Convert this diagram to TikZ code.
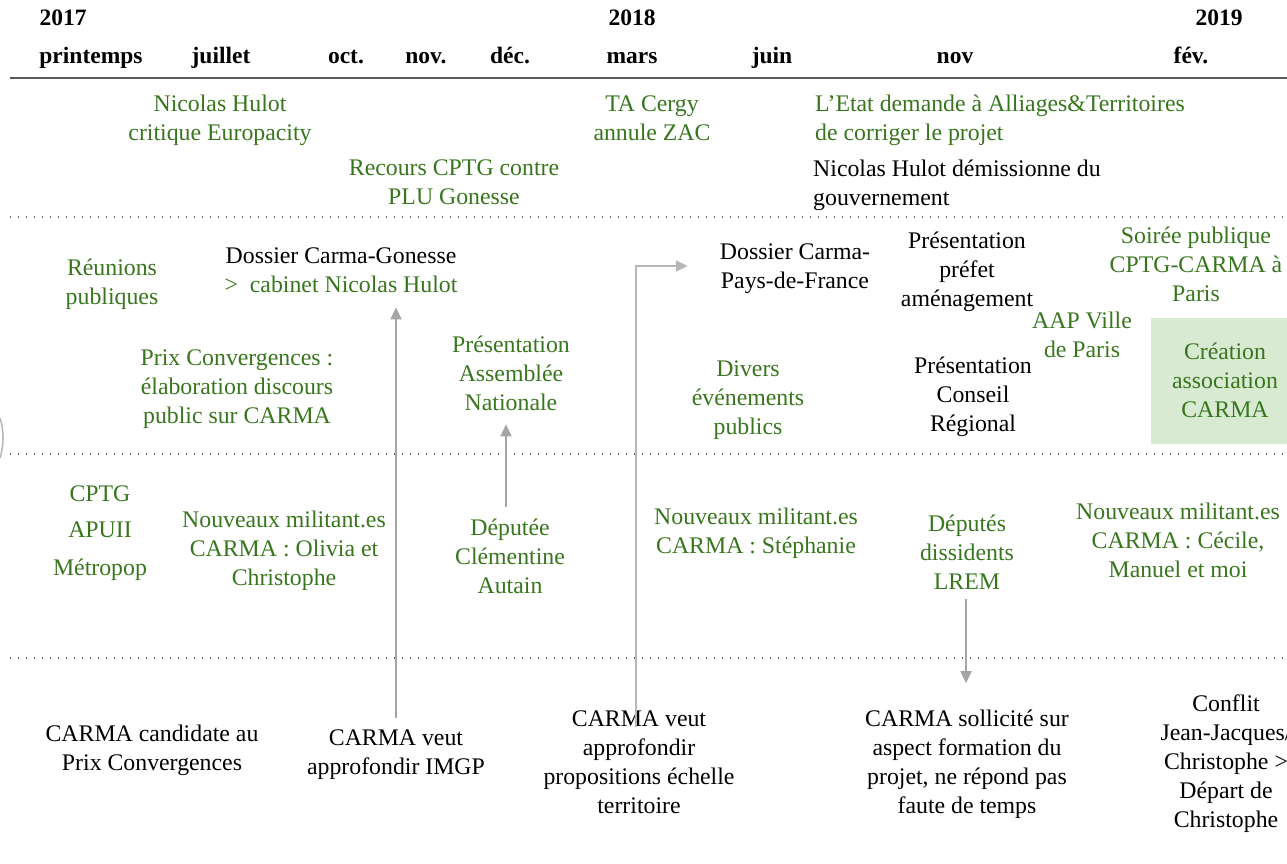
\documentclass[tikz,border=0pt]{standalone}
\usepackage{fontspec}
\setmainfont{Liberation Serif}
\usetikzlibrary{arrows.meta}
\definecolor{tgreen}{HTML}{38761D}
\definecolor{boxgreen}{HTML}{D9EAD3}
\definecolor{arrgrey}{HTML}{A5A5A5}
\definecolor{arrgreyb}{HTML}{B7B7B7}
\definecolor{linegrey}{HTML}{595959}
\definecolor{dotgrey}{HTML}{666666}
\begin{document}
\begin{tikzpicture}[x=1pt,y=-1pt,
  every node/.style={inner sep=0pt, font=\fontsize{23.8}{29}\selectfont, align=center,
    execute at begin node=\strut, execute at end node=\strut},
  hdr/.style={font=\fontsize{23.5}{29}\selectfont\bfseries, anchor=base},
  gtxt/.style={text=tgreen},
  btxt/.style={text=black},
  arr/.style={draw=arrgrey, line width=1.8pt, -{Triangle[width=11pt,length=12pt]}},
  arrb/.style={draw=arrgreyb, line width=1.8pt, -{Triangle[width=11pt,length=12pt]}},
  dotline/.style={draw=dotgrey, line width=1.4pt, dash pattern=on 1.4pt off 6.6pt},
]
\useasboundingbox (0,0) rectangle (1287,863);
% header
\node[hdr] (y17) at (63,25) {2017};
\node[hdr] (y18) at (632,25) {2018};
\node[hdr] (y19) at (1219,25) {2019};
\node[hdr] (m1) at (91,63) {printemps};
\node[hdr] (m2) at (221,63) {juillet};
\node[hdr] (m3) at (346,63) {oct.};
\node[hdr] (m4) at (426,63) {nov.};
\node[hdr] (m5) at (510,63) {déc.};
\node[hdr] (m6) at (632,63) {mars};
\node[hdr] (m7) at (772,63) {juin};
\node[hdr] (m8) at (955,63) {nov};
\node[hdr] (m9) at (1191,63) {fév.};
\draw[linegrey, line width=2.5pt] (10,78) -- (1287,78);
\draw[dotline] (10,217) -- (1287,217);
\draw[dotline] (10,454) -- (1287,454);
\draw[dotline] (10,658) -- (1287,658);
% left edge arc
\draw[gray!55, line width=1.6pt] (0,418) .. controls (4,430) and (4,446) .. (0,458);
\fill[boxgreen] (1151,318) rectangle (1287,444);
\begin{scope}[yshift=-4pt]
% row 1
\node[gtxt] (nh) at (220,118) {Nicolas Hulot\\critique Europacity};
\node[gtxt] (rec) at (454,182) {Recours CPTG contre\\PLU Gonesse};
\node[gtxt] (ta) at (652,118) {TA Cergy\\annule ZAC};
\node[gtxt, anchor=west, align=left] (etat) at (815,118) {L’Etat demande à Alliages\&Territoires\\de corriger le projet};
\node[btxt, anchor=west, align=left] (dem) at (813,183) {Nicolas Hulot démissionne du\\gouvernement};
% row 2
\node[gtxt] (reu) at (112,282) {Réunions\\publiques};
\node (dos) at (341,270) {Dossier Carma-Gonesse\\\textcolor{tgreen}{>\ \ cabinet Nicolas Hulot}};
\node[gtxt] (prix) at (237,387) {Prix Convergences :\\élaboration discours\\public sur CARMA};
\node[gtxt] (pan) at (511,374) {Présentation\\Assemblée\\Nationale};
\node (dpf) at (795,266) {Dossier Carma-\\Pays-de-France};
\node[gtxt] (div) at (748,398) {Divers\\événements\\publics};
\node (ppa) at (967,270) {Présentation\\préfet\\aménagement};
\node (pcr) at (973,395) {Présentation\\Conseil\\Régional};
\node[gtxt] (aap) at (1082,335) {AAP Ville\\de Paris};
\node[gtxt] (soi) at (1196,265) {Soirée publique\\CPTG-CARMA à\\Paris};
\node[gtxt] (cre) at (1225,381) {Création\\association\\CARMA};
% row 3
\node[gtxt] (cptg) at (100,492) {CPTG};
\node[gtxt] (apuii) at (100,528) {APUII};
\node[gtxt] (metro) at (100,566) {Métropop};
\node[gtxt] (nm1) at (284,549) {Nouveaux militant.es\\CARMA : Olivia et\\Christophe};
\node[gtxt] (dep) at (510,557) {Députée\\Clémentine\\Autain};
\node[gtxt] (nm2) at (756,531) {Nouveaux militant.es\\CARMA : Stéphanie};
\node[gtxt] (dd) at (967,553) {Députés\\dissidents\\LREM};
\node[gtxt] (nm3) at (1178,541) {Nouveaux militant.es\\CARMA : Cécile,\\Manuel et moi};
% row 4
\node (cc) at (152,748) {CARMA candidate au\\Prix Convergences};
\node (cmv) at (396,752) {CARMA veut\\approfondir IMGP};
\node (cvp) at (639,762) {CARMA veut\\approfondir\\propositions échelle\\territoire};
\node (cs) at (967,762) {CARMA sollicité sur\\aspect formation du\\projet, ne répond pas\\faute de temps};
\node (conf) at (1226,761) {Conflit\\Jean-Jacques/\\Christophe >\\Départ de\\Christophe};
\end{scope}
% arrows
\draw[arr, shorten <=11.5pt, shorten >=6.5pt] (cmv.north) -- (cmv.north |- dos.south);
\draw[arr, shorten <=12.5pt, shorten >=4.5pt] ([xshift=-4pt]dep.north) -- ([xshift=-4pt]dep.north |- pan.south);
\draw[arrb] ([xshift=-3pt,yshift=-16.5pt]cvp.north) |- ([xshift=-32pt,yshift=4pt]dpf.west);
\draw[arr, shorten >=26.5pt] ([xshift=-1pt]dd.south) -- ([xshift=-1pt]dd.south |- cs.north);
\end{tikzpicture}
\end{document}
